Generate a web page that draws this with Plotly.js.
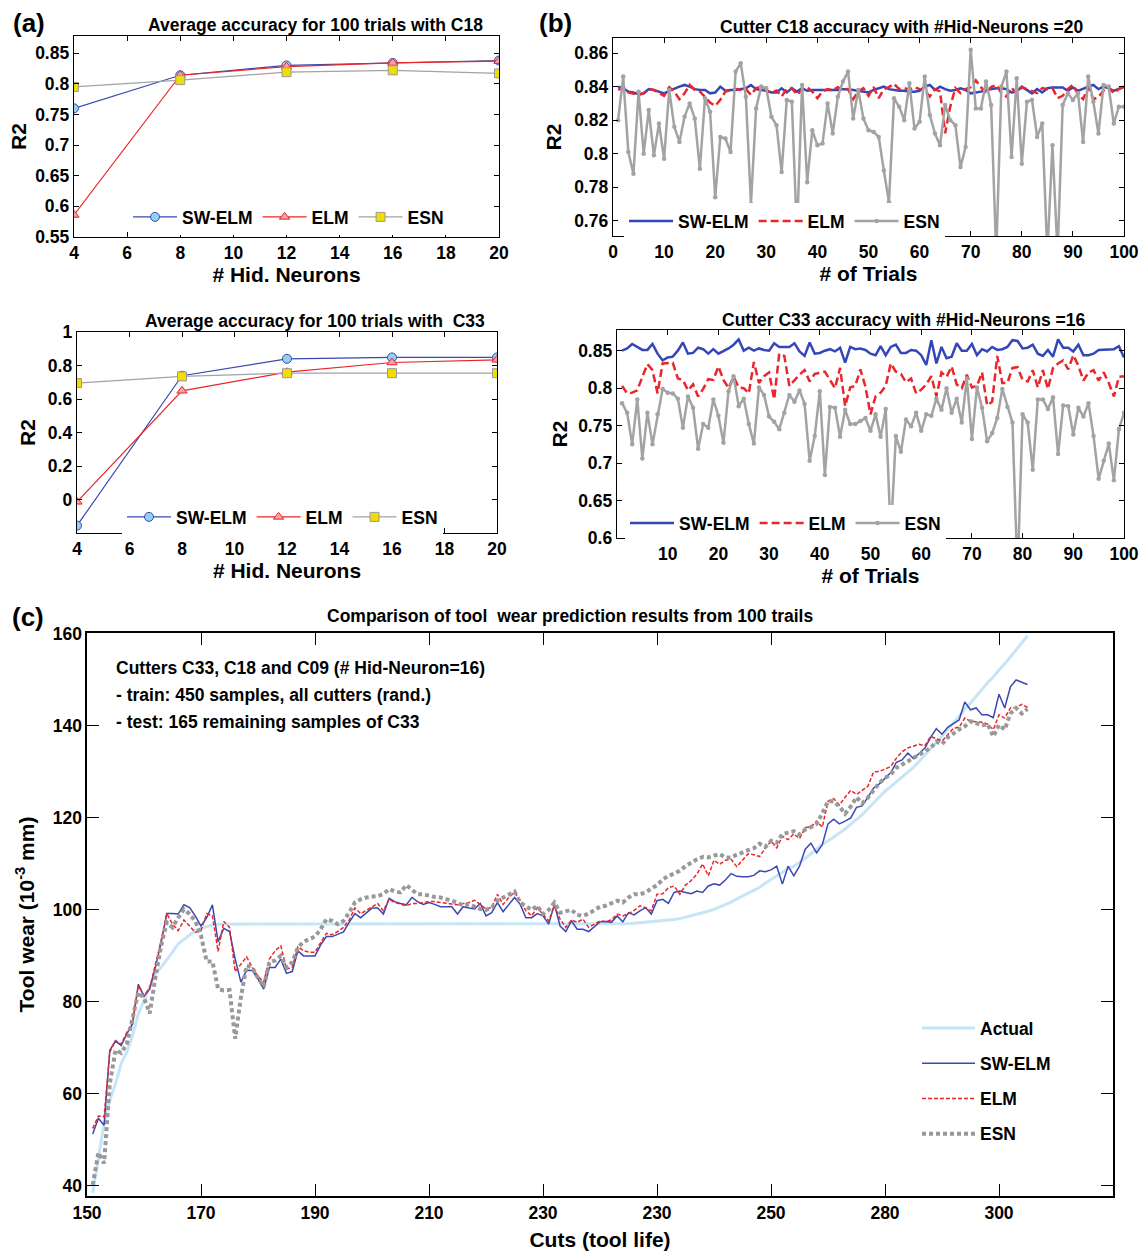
<!DOCTYPE html>
<html>
<head>
<meta charset="utf-8">
<script src="https://cdn.plot.ly/plotly-3.0.1.min.js"></script>
<style>html,body{margin:0;padding:0;background:#fff;}#chart{width:1146px;height:1252px;}</style>
</head>
<body>
<div id="chart"></div>
<script>
// ---------- DATA ----------
const hidNeurons = [4, 8, 12, 16, 20];
const c18_swelm = [0.760, 0.814, 0.830, 0.834, 0.838];
const c18_elm   = [0.586, 0.814, 0.828, 0.834, 0.837];
const c18_esn   = [0.795, 0.806, 0.819, 0.822, 0.817];
const c33_swelm = [-0.156, 0.739, 0.840, 0.848, 0.848];
const c33_elm   = [-0.014, 0.649, 0.760, 0.818, 0.834];
const c33_esn   = [0.695, 0.735, 0.754, 0.754, 0.754];

const trials = [1,2,3,4,5,6,7,8,9,10,11,12,13,14,15,16,17,18,19,20,21,22,23,24,25,26,27,28,29,30,31,32,33,34,35,36,37,38,39,40,41,42,43,44,45,46,47,48,49,50,51,52,53,54,55,56,57,58,59,60,61,62,63,64,65,66,67,68,69,70,71,72,73,74,75,76,77,78,79,80,81,82,83,84,85,86,87,88,89,90,91,92,93,94,95,96,97,98,99,100];

const b18_swelm = [0.840,0.839,0.837,0.8365,0.8355,0.836,0.8385,0.838,0.837,0.836,0.8375,0.839,0.840,0.841,0.840,0.8385,0.838,0.838,0.836,0.8365,0.840,0.8375,0.838,0.838,0.8385,0.839,0.841,0.8385,0.838,0.8375,0.8365,0.8365,0.839,0.8365,0.839,0.837,0.839,0.8375,0.838,0.838,0.838,0.838,0.838,0.838,0.8385,0.8385,0.838,0.8375,0.837,0.8365,0.838,0.839,0.840,0.8385,0.838,0.8375,0.8375,0.837,0.837,0.8375,0.840,0.841,0.838,0.840,0.8385,0.8375,0.838,0.839,0.838,0.836,0.8365,0.837,0.838,0.8385,0.839,0.839,0.8385,0.8365,0.837,0.840,0.838,0.836,0.8385,0.8365,0.839,0.8395,0.8395,0.8395,0.8375,0.8395,0.8375,0.839,0.840,0.841,0.8385,0.840,0.839,0.8375,0.839,0.840];
const b18_elm = [0.8381,0.8397,0.8365,0.836,0.8351,0.836,0.8385,0.838,0.8361,0.8345,0.8397,0.837,0.8325,0.836,0.8411,0.838,0.8371,0.834,0.8305,0.8285,0.8321,0.8371,0.838,0.8385,0.838,0.8385,0.8351,0.8391,0.8397,0.8381,0.8361,0.8377,0.8341,0.8385,0.8391,0.8351,0.8381,0.8397,0.837,0.8331,0.8371,0.8385,0.8377,0.8397,0.838,0.8385,0.8325,0.8371,0.8391,0.8345,0.8397,0.8331,0.8385,0.8397,0.8417,0.8385,0.8391,0.8381,0.8397,0.8385,0.8377,0.8341,0.8385,0.8371,0.8122,0.8281,0.8391,0.8361,0.8385,0.8397,0.8437,0.8397,0.8361,0.8397,0.8411,0.8361,0.8341,0.8391,0.8361,0.8397,0.8385,0.8377,0.8361,0.8391,0.8385,0.8391,0.8331,0.8345,0.8385,0.8411,0.8355,0.8325,0.8397,0.8325,0.8337,0.8377,0.8397,0.8361,0.8385,0.8397];
const b18_esn = [0.820,0.846,0.801,0.788,0.837,0.800,0.826,0.799,0.818,0.797,0.838,0.816,0.807,0.822,0.830,0.821,0.791,0.833,0.825,0.774,0.810,0.809,0.801,0.849,0.854,0.834,0.770,0.827,0.840,0.839,0.822,0.817,0.789,0.832,0.831,0.752,0.841,0.783,0.814,0.805,0.806,0.830,0.812,0.834,0.843,0.849,0.821,0.838,0.821,0.814,0.813,0.810,0.790,0.771,0.833,0.828,0.820,0.842,0.815,0.819,0.846,0.823,0.812,0.805,0.829,0.820,0.817,0.792,0.804,0.862,0.827,0.827,0.843,0.829,0.740,0.840,0.849,0.798,0.845,0.794,0.831,0.832,0.810,0.818,0.740,0.805,0.740,0.829,0.836,0.832,0.836,0.807,0.846,0.831,0.812,0.841,0.840,0.818,0.828,0.828];

const b33_swelm = [0.850,0.853,0.859,0.855,0.851,0.851,0.859,0.846,0.837,0.841,0.842,0.850,0.861,0.846,0.847,0.854,0.852,0.846,0.852,0.846,0.849,0.853,0.858,0.865,0.850,0.854,0.850,0.853,0.851,0.850,0.860,0.855,0.855,0.855,0.860,0.849,0.843,0.861,0.846,0.847,0.850,0.852,0.849,0.854,0.834,0.855,0.852,0.853,0.851,0.846,0.844,0.856,0.844,0.855,0.858,0.847,0.847,0.851,0.850,0.844,0.831,0.864,0.833,0.855,0.840,0.842,0.860,0.850,0.850,0.859,0.844,0.852,0.849,0.855,0.851,0.852,0.855,0.864,0.863,0.853,0.854,0.858,0.846,0.843,0.851,0.842,0.865,0.854,0.854,0.849,0.858,0.844,0.844,0.846,0.851,0.851,0.852,0.852,0.856,0.841];
const b33_elm = [0.803,0.793,0.794,0.797,0.815,0.832,0.824,0.793,0.833,0.834,0.834,0.813,0.811,0.797,0.805,0.789,0.799,0.812,0.811,0.829,0.811,0.800,0.815,0.801,0.800,0.793,0.835,0.807,0.816,0.821,0.785,0.846,0.843,0.803,0.811,0.818,0.824,0.809,0.819,0.820,0.822,0.811,0.800,0.827,0.776,0.801,0.803,0.825,0.802,0.765,0.789,0.794,0.803,0.833,0.822,0.819,0.808,0.813,0.793,0.798,0.805,0.816,0.789,0.821,0.815,0.829,0.805,0.800,0.818,0.801,0.803,0.821,0.777,0.782,0.843,0.807,0.807,0.827,0.828,0.811,0.809,0.824,0.801,0.824,0.799,0.827,0.833,0.837,0.825,0.844,0.830,0.810,0.821,0.824,0.810,0.821,0.807,0.789,0.815,0.816];
const b33_esn = [0.780,0.767,0.725,0.785,0.706,0.767,0.725,0.765,0.799,0.794,0.793,0.786,0.747,0.789,0.774,0.719,0.752,0.747,0.785,0.763,0.727,0.796,0.816,0.776,0.786,0.752,0.726,0.801,0.791,0.762,0.755,0.745,0.767,0.791,0.782,0.797,0.779,0.703,0.736,0.796,0.684,0.775,0.774,0.735,0.771,0.752,0.752,0.756,0.760,0.743,0.765,0.735,0.772,0.602,0.736,0.715,0.758,0.749,0.767,0.743,0.765,0.763,0.786,0.771,0.800,0.767,0.786,0.754,0.813,0.732,0.801,0.774,0.729,0.740,0.760,0.799,0.775,0.754,0.550,0.765,0.754,0.691,0.785,0.785,0.772,0.788,0.712,0.777,0.776,0.738,0.774,0.762,0.780,0.736,0.679,0.703,0.726,0.677,0.745,0.767];

const cuts = [151,152,153,154,155,156,157,158,159,160,161,162,163,164,165,166,167,168,169,170,171,172,173,174,175,176,177,178,179,180,181,182,183,184,185,186,187,188,189,190,191,192,193,194,195,196,197,198,199,200,201,202,203,204,205,206,207,208,209,210,211,212,213,214,215,216,217,218,219,220,221,222,223,224,225,226,227,228,229,230,231,232,233,234,235,236,237,238,239,240,241,242,243,244,245,246,247,248,249,250,251,252,253,254,255,256,257,258,259,260,261,262,263,264,265,266,267,268,269,270,271,272,273,274,275,276,277,278,279,280,281,282,283,284,285,286,287,288,289,290,291,292,293,294,295,296,297,298,299,300,301,302,303,304,305,306,307,308,309,310,311,312,313,314,315];
const cutTickVals = [150,170,190,210,230,250,270,290,310];
const cutTickText = ['150','170','190','210','230','230','250','280','300'];

const wearActual = [38.5,45.6,53.6,58.6,62.2,66.6,69.1,72.7,77.4,80.3,83.2,86.1,87.5,89.1,90.8,92.6,93.6,94.7,95.5,96.0,96.4,96.7,96.9,96.9,96.9,96.9,96.9,96.9,96.9,96.9,96.9,96.9,96.9,96.9,96.9,96.9,96.9,96.9,96.9,96.9,96.9,96.9,96.9,96.9,96.9,96.9,96.9,96.9,96.9,96.9,96.9,96.9,96.9,96.9,96.9,96.9,96.9,96.9,96.9,96.9,96.9,96.9,96.9,96.9,96.9,96.9,96.9,96.9,96.9,96.9,96.9,96.9,96.9,96.9,96.9,96.9,96.9,96.9,96.9,96.9,96.9,96.9,96.9,96.9,96.9,96.9,96.9,96.9,96.9,96.9,96.9,96.9,96.9,96.9,97.0,97.1,97.2,97.3,97.4,97.5,97.6,97.7,97.9,98.1,98.4,98.7,99.0,99.3,99.7,100.1,100.6,101.1,101.7,102.4,103.0,103.6,104.2,104.9,105.8,106.6,107.4,108.2,109.0,109.5,110.3,111.2,112.2,113.3,114.3,115.0,115.8,116.7,117.6,118.6,119.6,120.7,122.0,123.3,124.5,125.8,126.8,127.8,128.8,129.8,131.0,132.3,133.6,135.0,136.4,137.8,139.3,140.8,142.2,143.6,145.0,146.5,148.0,149.4,150.7,152.0,153.5,155.0,156.6,158.2,159.6];
const wearSWELM = [51.3,54.7,53.2,69.5,71.5,70.5,73.1,75.2,83.8,81.2,82.8,87.5,92.9,99.2,99.2,99.1,101.1,100.5,98.7,96.5,98.3,101.1,93.1,96.0,95.3,89.3,84.3,86.9,86.8,85.0,82.8,87.5,87.5,89.3,86.2,86.6,91.1,90.0,90.0,90.0,92.4,94.2,94.2,94.7,95.2,97.3,99.2,98.3,99.4,100.4,100.4,99.1,102.5,101.8,101.4,101.1,102.7,101.8,101.2,101.6,101.2,100.7,100.7,100.7,99.1,100.7,100.4,100.2,101.4,98.7,99.4,101.6,99.6,101.2,102.7,101.2,98.3,98.3,99.2,98.7,96.9,101.2,96.5,95.3,97.6,95.8,95.8,95.3,96.3,97.4,97.5,97.3,98.7,97.4,99.4,98.9,99.8,100.5,99.1,102.0,102.3,101.4,103.8,104.1,103.8,103.5,104.1,103.8,105.2,105.7,105.4,106.5,107.9,107.3,107.2,107.2,107.5,108.5,108.3,108.7,109.5,105.6,109.5,107.4,109.5,113.2,114.5,112.4,114.2,118.7,119.7,118.7,119.3,120.0,122.3,122.6,124.5,126.5,127.4,128.5,129.8,132.1,132.6,134.1,132.9,134.0,135.2,137.5,139.4,138.2,139.7,140.5,141.3,145.2,143.5,143.9,142.4,142.4,141.8,146.9,143.9,148.5,150.0,149.5,149.0];
const wearELM = [52.5,55.2,55.0,69.1,71.6,70.8,73.4,75.6,83.5,81.4,83.0,87.9,93.3,99.2,96.9,95.5,97.8,96.5,95.1,95.5,99.2,98.7,91.0,97.5,96.2,86.6,88.2,89.8,87.5,85.5,84.3,89.3,91.1,92.2,87.1,87.5,92.0,91.1,90.8,90.8,92.9,94.9,94.6,95.3,96.2,97.8,100.4,99.2,99.9,100.6,101.4,99.8,102.3,101.6,101.2,100.9,101.4,101.4,101.6,101.8,101.8,101.6,101.4,101.2,101.1,101.4,101.6,102.1,101.2,100.2,100.5,103.4,101.2,102.7,103.8,102.0,99.8,98.7,100.5,99.1,97.6,100.9,98.0,96.2,97.8,97.3,98.0,96.2,96.9,97.6,97.5,97.8,99.1,98.7,99.2,99.9,100.9,100.5,99.8,103.4,103.5,104.8,105.2,103.4,105.4,106.4,107.8,110.0,107.4,110.8,109.9,110.8,111.0,109.4,110.8,112.2,112.0,111.6,113.4,115.0,113.5,116.0,115.3,116.5,115.5,117.9,118.0,119.3,118.0,123.6,124.2,122.8,124.5,126.0,125.1,126.0,126.9,130.0,130.1,130.6,131.2,133.0,134.4,135.2,135.6,136.0,135.7,137.7,137.2,136.7,138.1,139.5,139.7,141.7,141.0,140.9,140.8,140.4,139.2,142.4,141.7,143.9,144.0,144.7,144.0];
const wearESN = [40.2,47.2,44.9,62.2,69.5,68.9,70.9,76.7,82.1,80.9,77.5,85.3,92.2,97.3,96.2,98.3,100.1,99.1,97.6,94.4,88.8,88.8,82.8,82.5,82.6,72.0,81.0,87.9,87.5,85.2,83.3,88.6,89.0,90.0,87.5,88.6,91.8,93.1,93.6,94.2,95.8,98.0,97.6,96.9,97.6,99.4,101.6,102.3,102.7,102.9,103.0,103.5,104.5,104.0,103.8,105.4,104.5,103.4,103.4,103.0,102.8,102.7,102.3,101.8,101.6,100.9,101.2,100.7,100.2,100.0,100.5,102.0,102.7,103.4,104.0,101.6,100.9,100.0,100.9,99.1,100.0,101.6,99.4,99.6,100.0,98.9,98.7,99.2,100.0,100.7,100.9,101.4,102.0,101.6,102.7,103.4,103.4,103.8,104.5,105.4,106.6,107.4,107.9,108.5,109.5,110.3,111.0,111.5,111.4,111.8,112.1,111.4,111.4,112.0,112.6,113.0,113.4,114.4,113.7,115.0,114.6,116.5,116.8,117.1,116.4,117.5,118.0,118.7,121.0,123.6,123.6,122.5,120.9,122.5,124.5,123.2,124.4,126.0,127.6,128.7,129.4,130.9,131.6,132.4,133.0,133.7,134.5,135.2,136.6,136.0,137.5,138.4,139.2,139.9,141.0,140.6,140.1,140.4,137.7,140.2,139.2,142.7,143.9,142.7,143.7];

// ---------- STYLE ----------
const W = 1146, H = 1252;
const FF = 'Liberation Sans, Arial, Helvetica, sans-serif';
const px = v => v / W, py = v => 1 - v / H;
const BLUE = '#3a48b2', RED = '#e8262b', GRAY = '#a3a3a3';

function axis(extra) {
  return Object.assign({
    showline: true, mirror: 'ticks', linecolor: '#000', linewidth: 1.3,
    ticks: 'inside', ticklen: 5, tickwidth: 1, tickcolor: '#000',
    showgrid: false, zeroline: false, fixedrange: true,
    tickfont: {family: FF, size: 17.5, color: '#000', weight: 'bold'}
  }, extra);
}
function ttl(text, standoff) {
  return {text: text, standoff: standoff, font: {family: FF, size: 21, color: '#000', weight: 'bold'}};
}

const traces = [];
// (a) C18
traces.push({x: hidNeurons, y: c18_swelm, name: 'SW-ELM', xaxis: 'x', yaxis: 'y', legend: 'legend', mode: 'lines+markers',
  line: {color: BLUE, width: 1.2}, marker: {symbol: 'circle', size: 9, color: '#8fd4ec', line: {color: BLUE, width: 1}}});
traces.push({x: hidNeurons, y: c18_elm, name: 'ELM', xaxis: 'x', yaxis: 'y', legend: 'legend', mode: 'lines+markers',
  line: {color: RED, width: 1.2}, marker: {symbol: 'triangle-up', size: 9, color: '#f4a1ab', line: {color: RED, width: 1}}});
traces.push({x: hidNeurons, y: c18_esn, name: 'ESN', xaxis: 'x', yaxis: 'y', legend: 'legend', mode: 'lines+markers',
  line: {color: GRAY, width: 1.2}, marker: {symbol: 'square', size: 9, color: '#f2dd00', line: {color: '#999', width: 1}}});
// (a) C33
traces.push({x: hidNeurons, y: c33_swelm, name: 'SW-ELM', xaxis: 'x2', yaxis: 'y2', legend: 'legend2', mode: 'lines+markers',
  line: {color: BLUE, width: 1.2}, marker: {symbol: 'circle', size: 9, color: '#8fd4ec', line: {color: BLUE, width: 1}}});
traces.push({x: hidNeurons, y: c33_elm, name: 'ELM', xaxis: 'x2', yaxis: 'y2', legend: 'legend2', mode: 'lines+markers',
  line: {color: RED, width: 1.2}, marker: {symbol: 'triangle-up', size: 9, color: '#f4a1ab', line: {color: RED, width: 1}}});
traces.push({x: hidNeurons, y: c33_esn, name: 'ESN', xaxis: 'x2', yaxis: 'y2', legend: 'legend2', mode: 'lines+markers',
  line: {color: GRAY, width: 1.2}, marker: {symbol: 'square', size: 9, color: '#f2dd00', line: {color: '#999', width: 1}}});
// (b) C18
traces.push({x: trials, y: b18_swelm, name: 'SW-ELM', xaxis: 'x3', yaxis: 'y3', legend: 'legend3', mode: 'lines',
  line: {color: '#3446b8', width: 2.5}});
traces.push({x: trials, y: b18_elm, name: 'ELM', xaxis: 'x3', yaxis: 'y3', legend: 'legend3', mode: 'lines',
  line: {color: RED, width: 2.5, dash: '8px,4px'}});
traces.push({x: trials, y: b18_esn, name: 'ESN', xaxis: 'x3', yaxis: 'y3', legend: 'legend3', mode: 'lines+markers',
  line: {color: GRAY, width: 2.5}, marker: {size: 4.5, color: GRAY}});
// (b) C33
traces.push({x: trials, y: b33_swelm, name: 'SW-ELM', xaxis: 'x4', yaxis: 'y4', legend: 'legend4', mode: 'lines',
  line: {color: '#3446b8', width: 2.5}});
traces.push({x: trials, y: b33_elm, name: 'ELM', xaxis: 'x4', yaxis: 'y4', legend: 'legend4', mode: 'lines',
  line: {color: RED, width: 2.5, dash: '8px,4px'}});
traces.push({x: trials, y: b33_esn, name: 'ESN', xaxis: 'x4', yaxis: 'y4', legend: 'legend4', mode: 'lines+markers',
  line: {color: GRAY, width: 2.5}, marker: {size: 4.5, color: GRAY}});
// (c)
traces.push({x: cuts, y: wearActual, name: 'Actual', xaxis: 'x5', yaxis: 'y5', legend: 'legend5', legendgroup: 'g1', mode: 'lines',
  line: {color: '#c6e5f6', width: 3}});
traces.push({x: cuts, y: wearSWELM, name: 'SW-ELM', xaxis: 'x5', yaxis: 'y5', legend: 'legend5', legendgroup: 'g2', mode: 'lines',
  line: {color: BLUE, width: 1.5}});
traces.push({x: cuts, y: wearELM, name: 'ELM', xaxis: 'x5', yaxis: 'y5', legend: 'legend5', legendgroup: 'g3', mode: 'lines',
  line: {color: RED, width: 1.5, dash: '4px,2px'}});
traces.push({x: cuts, y: wearESN, name: 'ESN', xaxis: 'x5', yaxis: 'y5', legend: 'legend5', legendgroup: 'g4', mode: 'lines',
  line: {color: '#999', width: 4, dash: '4px,3px'}});

const legFont = {family: FF, size: 17.5, color: '#000', weight: 'bold'};
function hLegend(xl, yc) {
  return {orientation: 'h', x: px(xl), y: py(yc), xanchor: 'left', yanchor: 'middle',
    bgcolor: '#fff', borderwidth: 0, font: legFont, itemwidth: 44, itemclick: false, itemdoubleclick: false};
}

function ann(text, x, y, size, extra) {
  return Object.assign({text: text, x: px(x), y: py(y), xref: 'paper', yref: 'paper', showarrow: false,
    xanchor: 'center', yanchor: 'middle', font: {family: FF, size: size, color: '#000', weight: 'bold'}}, extra || {});
}

const layout = {
  width: W, height: H, margin: {l: 0, r: 0, t: 0, b: 0},
  paper_bgcolor: '#fff', plot_bgcolor: '#fff', showlegend: true,
  font: {family: FF, color: '#000'},
  xaxis: axis({domain: [px(74), px(499)], range: [4, 20], dtick: 2, tick0: 4, anchor: 'y', title: ttl('# Hid. Neurons', 2)}),
  yaxis: axis({domain: [py(237), py(36)], range: [0.55, 0.878], dtick: 0.05, tick0: 0.55, anchor: 'x', title: ttl('R2', 2)}),
  xaxis2: axis({domain: [px(77), px(497)], range: [4, 20], dtick: 2, tick0: 4, anchor: 'y2', title: ttl('# Hid. Neurons', 2)}),
  yaxis2: axis({domain: [py(533), py(332)], range: [-0.2, 1.0], tickvals: [0, 0.2, 0.4, 0.6, 0.8, 1], anchor: 'x2', title: ttl('R2', 6)}),
  xaxis3: axis({domain: [px(613), px(1124)], range: [0, 100], dtick: 10, tick0: 0, anchor: 'y3', title: ttl('# of Trials', 2)}),
  yaxis3: axis({domain: [py(236), py(38)], range: [0.7509, 0.869], dtick: 0.02, tick0: 0.76, anchor: 'x3', title: ttl('R2', 6)}),
  xaxis4: axis({domain: [px(617), px(1124)], range: [0, 100], tickvals: [10,20,30,40,50,60,70,80,90,100], anchor: 'y4', title: ttl('# of Trials', 3)}),
  yaxis4: axis({domain: [py(538), py(330)], range: [0.6, 0.8776], dtick: 0.05, tick0: 0.6, anchor: 'x4', title: ttl('R2', 4)}),
  xaxis5: axis({domain: [px(87), px(1113)], range: [150, 330], tickvals: cutTickVals, ticktext: cutTickText, ticklen: 12,
    linewidth: 1.6, anchor: 'y5', title: ttl('Cuts (tool life)', 11)}),
  yaxis5: axis({domain: [py(1196), py(633)], range: [37.8, 160.2], dtick: 20, tick0: 40, ticklen: 12,
    linewidth: 1.6, anchor: 'x5', title: ttl('Tool wear (10<sup>-3</sup> mm)', 12)}),
  legend: hLegend(128, 217),
  legend2: hLegend(122, 517),
  legend3: hLegend(624, 221),
  legend4: hLegend(625, 523),
  legend5: {orientation: 'v', x: px(917), y: py(1010), xanchor: 'left', yanchor: 'top', bgcolor: '#fff',
    borderwidth: 0, font: legFont, itemwidth: 53, tracegroupgap: 9.5, traceorder: 'grouped', itemclick: false, itemdoubleclick: false},
  annotations: [
    ann('(a)', 29, 23, 26),
    ann('(b)', 555, 23, 26),
    ann('(c)', 28, 617, 26),
    ann('Average accuracy for 100 trials with C18', 315, 25, 17.5),
    ann('Cutter C18 accuracy with #Hid-Neurons =20', 902, 27, 17.5),
    ann('Average accuracy for 100 trials with  C33', 315, 321, 17.5),
    ann('Cutter C33 accuracy with #Hid-Neurons =16', 904, 320, 17.5),
    ann('Comparison of tool  wear prediction results from 100 trails', 570, 616, 17.5),
    ann('Cutters C33, C18 and C09 (# Hid-Neuron=16)', 114, 668, 17.5, {xanchor: 'left'}),
    ann('- train: 450 samples, all cutters (rand.)', 114, 695, 17.5, {xanchor: 'left'}),
    ann('- test: 165 remaining samples of C33', 114, 722, 17.5, {xanchor: 'left'})
  ]
};

Plotly.newPlot('chart', traces, layout, {staticPlot: true, displayModeBar: false});
</script>
</body>
</html>
